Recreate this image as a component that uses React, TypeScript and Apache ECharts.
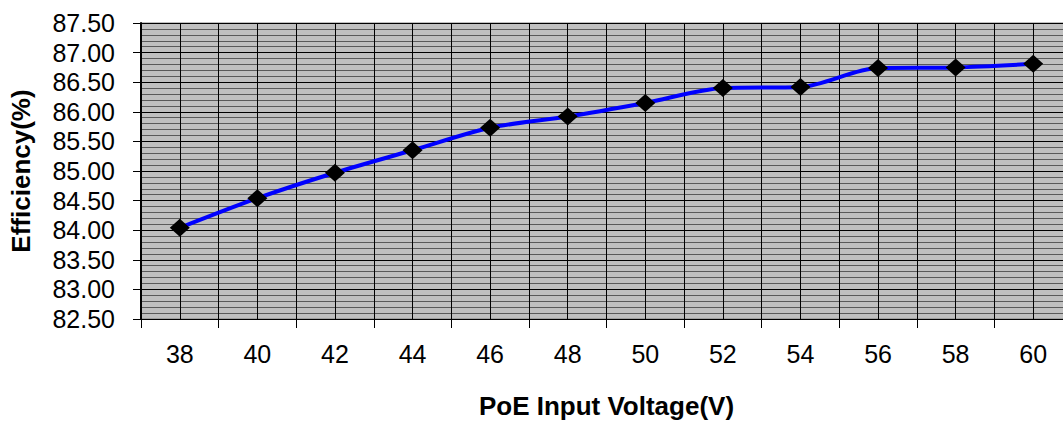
import React, { useEffect, useRef } from "react";
import * as echarts from "echarts";

const voltages = ["38", "40", "42", "44", "46", "48", "50", "52", "54", "56", "58", "60"];
const efficiency = [84.04, 84.54, 84.97, 85.35, 85.73, 85.92, 86.15, 86.4, 86.42, 86.74, 86.75, 86.81];
const yMin = 82.5;
const yMax = 87.5;
const yStep = 0.5;
const xTitle = "PoE Input Voltage(V)";
const yTitle = "Efficiency(%)";

export default function App() {
  const ref = useRef<HTMLDivElement>(null);
  useEffect(() => {
    if (!ref.current) return;
    const chart = echarts.init(ref.current, null, { renderer: "svg" });
    const font = "'Liberation Sans', Arial, sans-serif";
    chart.setOption({
      animation: false,
      backgroundColor: "#ffffff",
      grid: {
        left: 141,
        top: 23,
        width: 931,
        height: 296,
        show: true,
        backgroundColor: "#C0C0C0",
        borderColor: "#808080",
        borderWidth: 1,
      },
      xAxis: [
        {
          type: "category",
          data: voltages,
          boundaryGap: true,
          name: xTitle,
          nameLocation: "middle",
          nameGap: 74,
          nameTextStyle: { fontFamily: font, fontSize: 26, fontWeight: "bold", color: "#000" },
          axisLine: { show: true, lineStyle: { color: "#000", width: 1 } },
          axisTick: { show: true, inside: false, length: 9, lineStyle: { color: "#000" } },
          axisLabel: { fontFamily: font, fontSize: 25, color: "#000", margin: 22 },
          splitLine: { show: false },
        },
        {
          type: "value",
          min: 37,
          max: 61,
          interval: 1,
          position: "bottom",
          axisLine: { show: false },
          axisTick: { show: false },
          axisLabel: { show: false },
          splitLine: { show: true, lineStyle: { color: "#000", width: 1 } },
        },
      ],
      yAxis: {
        type: "value",
        min: yMin,
        max: yMax,
        interval: yStep,
        name: yTitle,
        nameLocation: "middle",
        nameGap: 107,
        nameTextStyle: { fontFamily: font, fontSize: 26, fontWeight: "bold", color: "#000" },
        axisLine: { show: true, lineStyle: { color: "#000", width: 2 } },
        axisTick: { show: true, inside: false, length: 8, lineStyle: { color: "#000" } },
        axisLabel: {
          fontFamily: font,
          fontSize: 25,
          color: "#000",
          margin: 26,
          formatter: (v: number) => v.toFixed(2),
        },
        splitLine: { show: true, lineStyle: { color: "#000", width: 1 } },
        minorTick: { show: false, splitNumber: 5 },
        minorSplitLine: { show: true, lineStyle: { color: "#5a5a5a", width: 1 } },
      },
      series: [
        {
          type: "line",
          xAxisIndex: 0,
          data: efficiency,
          smooth: 0.3,
          lineStyle: { color: "#0000FF", width: 4 },
          symbol: "diamond",
          symbolSize: [20, 18],
          itemStyle: { color: "#000000" },
          z: 5,
        },
      ],
    });
    return () => chart.dispose();
  }, []);
  return (
    <div
      style={{
        position: "fixed",
        left: 0,
        top: 0,
        width: 1063,
        height: 424,
        overflow: "hidden",
        background: "#fff",
      }}
    >
      <div ref={ref} style={{ width: 1080, height: 424 }} />
    </div>
  );
}
